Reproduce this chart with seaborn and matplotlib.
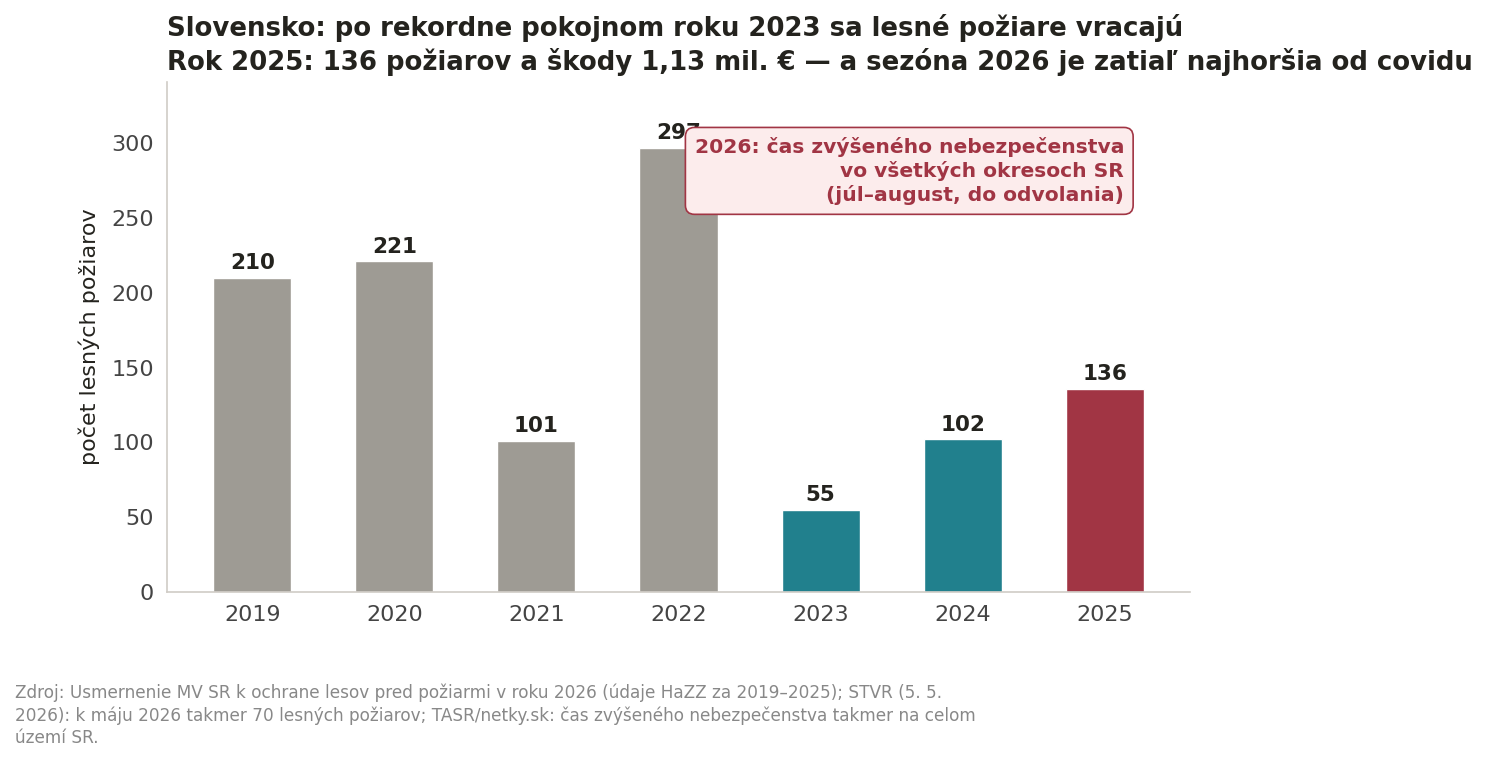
import matplotlib
matplotlib.use("Agg")
import matplotlib.pyplot as plt
import seaborn as sns
import pandas as pd

# Údaje
roky = ["2019", "2020", "2021", "2022", "2023", "2024", "2025"]
pocty = [210, 221, 101, 297, 55, 102, 136]
farby = ["#9e9b94", "#9e9b94", "#9e9b94", "#9e9b94", "#21808d", "#21808d", "#a13544"]

df = pd.DataFrame({"rok": roky, "pocet": pocty})

sns.set_theme(style="white")
plt.rcParams["font.family"] = ["DejaVu Sans"]

fig = plt.figure(figsize=(14.95, 7.63), dpi=100)
ax = fig.add_axes([167 / 1495, 1 - 592 / 763, (1190 - 167) / 1495, (592 - 82) / 763])

sns.barplot(data=df, x="rok", y="pocet", hue="rok", palette=farby, legend=False,
            width=0.55, saturation=1, ax=ax)

for i, v in enumerate(pocty):
    ax.text(i, v + 3, str(v), ha="center", va="bottom", fontsize=15.5,
            fontweight="bold", color="#24231e")

ax.set_xlim(-0.6, 6.6)
ax.set_ylim(0, 341)
ax.set_yticks([0, 50, 100, 150, 200, 250, 300])
ax.set_xlabel("")
ax.set_ylabel("počet lesných požiarov", fontsize=16, color="#24231e", labelpad=8)
ax.tick_params(axis="both", labelsize=16, labelcolor="#444444", color="#555555", length=6, width=1.2)
for s in ["top", "right"]:
    ax.spines[s].set_visible(False)
for s in ["left", "bottom"]:
    ax.spines[s].set_color("#d0ccc6")
    ax.spines[s].set_linewidth(1.2)

ax.text(0.9355, 0.893, "2026: čas zvýšeného nebezpečenstva\nvo všetkých okresoch SR\n(júl–august, do odvolania)",
        transform=ax.transAxes, ha="right", va="top", fontsize=14.6, fontweight="bold",
        color="#a13544", linespacing=1.27,
        bbox=dict(boxstyle="round,pad=0.45", facecolor="#fcecec", edgecolor="#a13544", linewidth=1.2))

fig.text(167 / 1495, 1 - 45 / 763,
         "Slovensko: po rekordne pokojnom roku 2023 sa lesné požiare vracajú\n"
         "Rok 2025: 136 požiarov a škody 1,13 mil. € — a sezóna 2026 je zatiaľ najhoršia od covidu",
         ha="left", va="center", fontsize=18.7, fontweight="bold", color="#24231e", linespacing=1.3)
fig.text(15 / 1495, 1 - 715 / 763,
         "Zdroj: Usmernenie MV SR k ochrane lesov pred požiarmi v roku 2026 (údaje HaZZ za 2019–2025); STVR (5. 5.\n"
         "2026): k máju 2026 takmer 70 lesných požiarov; TASR/netky.sk: čas zvýšeného nebezpečenstva takmer na celom\n"
         "území SR.",
         ha="left", va="center", fontsize=12.2, color="#888888", linespacing=1.3)

fig.savefig("out.png", dpi=100)
